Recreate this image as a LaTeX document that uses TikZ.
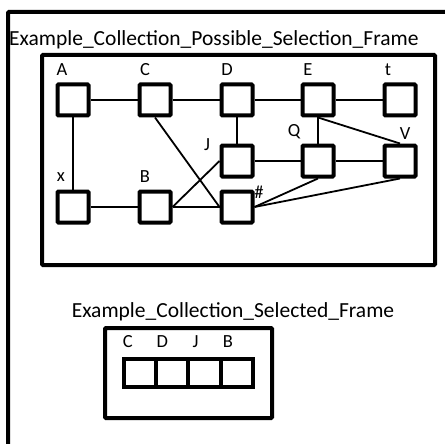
\documentclass[tikz,border=0pt]{standalone}
\usepackage{fontspec}
\setmainfont{Carlito}
\usetikzlibrary{calc}

\tikzset{
	vert/.style={draw, fill=white, line width=4pt, minimum size=31pt, inner sep=0pt, rounded corners=1pt},
	cell/.style={draw, line width=4pt, minimum width=32.3pt, minimum height=28pt, inner sep=0pt},
	lbl/.style={inner sep=0pt, font=\fontsize{18.5}{19}\selectfont},
	ttl/.style={inner sep=0pt, font=\fontsize{21.5}{22}\selectfont},
	frame/.style={line width=4pt, rounded corners=1pt},
	link/.style={line width=1.8pt}
}

\begin{document}
\begin{tikzpicture}[x=1pt, y=-1pt]
	\useasboundingbox (0,0) rectangle (445,444);
	\clip (0,0) rectangle (445,444);
	% outer frame, only left and top inside the page
	\draw[frame] (8,12) rectangle (480,480);
	\node[ttl, anchor=west] (ttlpos) at (9,40) {Example\_Collection\_Possible\_Selection\_Frame};
	\draw[frame] (42,55) rectangle (435,265);

	% possible selection
	\node[vert] (A) at (73,100) {};
	\node[vert] (C) at (155,100) {};
	\node[vert] (D) at (237,100) {};
	\node[vert] (E) at (318,100) {};
	\node[vert] (t) at (400,100) {};
	\node[vert] (J) at (237,161) {};
	\node[vert] (Q) at (318,161) {};
	\node[vert] (V) at (400,161) {};
	\node[vert] (x) at (73,207) {};
	\node[vert] (B) at (155,207) {};
	\node[vert] (hash) at (237,207) {};

	\node[lbl] (lA) at ($(A)+(-11,-30)$) {A};
	\node[lbl] (lC) at ($(C)+(-10,-30)$) {C};
	\node[lbl] (lD) at ($(D)+(-10,-30)$) {D};
	\node[lbl] (lE) at ($(E)+(-10,-30)$) {E};
	\node[lbl] (lt) at ($(t)+(-12,-30)$) {t};
	\node[lbl] (lJ) at ($(J)+(-30,-16)$) {J};
	\node[lbl] (lQ) at ($(Q)+(-24,-29)$) {Q};
	\node[lbl] (lV) at ($(V)+(5,-27)$) {V};
	\node[lbl] (lx) at ($(x)+(-12,-30)$) {x};
	\node[lbl] (lB) at ($(B)+(-10,-30)$) {B};
	\node[lbl] (lhash) at ($(hash)+(22,-15)$) {\#};

	\path[link] (A) edge (C) (C) edge (D) (D) edge (E) (E) edge (t);
	\path[link] (A) edge (x) (x) edge (B) (B) edge (hash);
	\path[link] (C.south) edge (hash.west) (B.east) edge (J.west);
	\path[link] (D) edge (J) (E) edge (Q) (E.south) edge (V.north);
	\path[link] (J) edge (Q) (Q) edge (V);
	\path[link] (hash.east) edge (Q.south) (hash.east) edge (V.south);

	% selected
	\node[ttl] (ttlsel) at (233,312) {Example\_Collection\_Selected\_Frame};
	\draw[frame] (105,328) rectangle (272,418);
	\node[cell] (s1) at (139.9,373) {};
	\node[cell] (s2) at (172.2,373) {};
	\node[cell] (s3) at (204.5,373) {};
	\node[cell] (s4) at (236.8,373) {};
	\node[lbl] (ls1) at ($(s1)+(-12,-31)$) {C};
	\node[lbl] (ls2) at ($(s2)+(-10,-31)$) {D};
	\node[lbl] (ls3) at ($(s3)+(-9,-31)$) {J};
	\node[lbl] (ls4) at ($(s4)+(-9,-31)$) {B};
\end{tikzpicture}
\end{document}
